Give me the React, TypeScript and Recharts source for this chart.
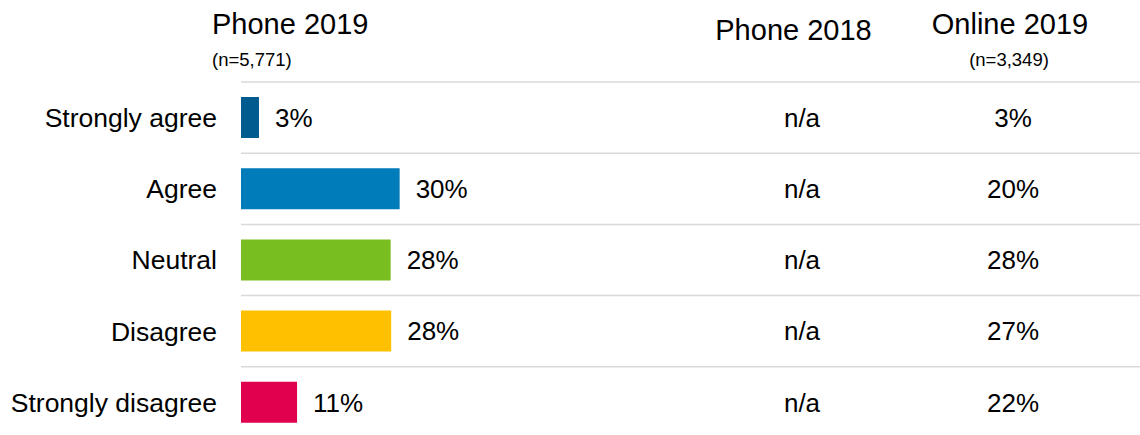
import React from 'react';
import { BarChart, Bar, XAxis, YAxis, CartesianGrid, LabelList, Cell } from 'recharts';

const categories = ['Strongly agree', 'Agree', 'Neutral', 'Disagree', 'Strongly disagree'];
const phone2019 = [3.4, 30, 28.3, 28.4, 10.6];
const phone2018 = ['n/a', 'n/a', 'n/a', 'n/a', 'n/a'];
const online2019 = [3, 20, 28, 27, 22];
const barColors = ['#005b8f', '#007cba', '#78be21', '#ffc000', '#e0004d'];

const FONT = '"Liberation Sans", Arial, sans-serif';

const data = categories.map((category, i) => ({
    category,
    phone2019: phone2019[i],
    phone2018: phone2018[i],
    online2019: online2019[i],
}));

// grid line at the top of each category band
const bandTops = ({ yAxis, offset }: any) =>
    categories.map((c, i) => {
        const v = yAxis && typeof yAxis.scale === 'function' ? yAxis.scale(c) : undefined;
        return typeof v === 'number' && !isNaN(v) ? v : offset.top + (i * offset.height) / categories.length;
    });

const columnCell = (cx: number, suffix: string) => (props: any) => {
    const vb = props.viewBox && props.viewBox.height != null ? props.viewBox : props;
    const y = vb.y + vb.height / 2;
    const text = typeof props.value === 'number' ? `${props.value}${suffix}` : props.value;
    return (
        <text x={cx} y={y} dy="0.355em" textAnchor="middle" fontSize={26} fontFamily={FONT} fill="#000">
            {text}
        </text>
    );
};

export default function App() {
    return (
        <div style={{ position: 'absolute', left: 0, top: 0, width: 1140, height: 435, overflow: 'hidden', background: '#fff' }}>
            <BarChart
                width={1140}
                height={440}
                data={data}
                layout="vertical"
                margin={{ top: 82, right: 0, bottom: 2, left: 0 }}
                barSize={41}
            >
                <CartesianGrid
                    vertical={false}
                    stroke="#d9d9d9"
                    strokeWidth={1.5}
                    horizontalCoordinatesGenerator={bandTops}
                />
                <XAxis type="number" hide domain={[0, 170]} />
                <YAxis
                    type="category"
                    dataKey="category"
                    width={241}
                    axisLine={false}
                    tickLine={false}
                    tickSize={0}
                    tickMargin={24}
                    interval={0}
                    tick={{ fontSize: 26.5, fill: '#000', fontFamily: FONT }}
                />
                <Bar dataKey="phone2019" isAnimationActive={false}>
                    {data.map((d, i) => (
                        <Cell key={d.category} fill={barColors[i]} />
                    ))}
                    <LabelList
                        dataKey="phone2019"
                        position="right"
                        offset={16}
                        formatter={(v: any) => `${Math.round(Number(v))}%`}
                        style={{ fontSize: 26, fill: '#000', fontFamily: FONT }}
                    />
                    <LabelList dataKey="phone2018" content={columnCell(802, '')} />
                    <LabelList dataKey="online2019" content={columnCell(1013, '%')} />
                </Bar>
            </BarChart>

            {/* column headers */}
            <svg width={1140} height={80} style={{ position: 'absolute', left: 0, top: 0, pointerEvents: 'none' }}>
                <g fontFamily={FONT} fill="#000">
                    <text x={212} y={34} fontSize={29}>Phone 2019</text>
                    <text x={212} y={66} fontSize={18.5}>(n=5,771)</text>
                    <text x={793.5} y={40} fontSize={29} textAnchor="middle">Phone 2018</text>
                    <text x={1010} y={34} fontSize={29} textAnchor="middle">Online 2019</text>
                    <text x={1009} y={66} fontSize={18.5} textAnchor="middle">(n=3,349)</text>
                </g>
            </svg>
        </div>
    );
}
